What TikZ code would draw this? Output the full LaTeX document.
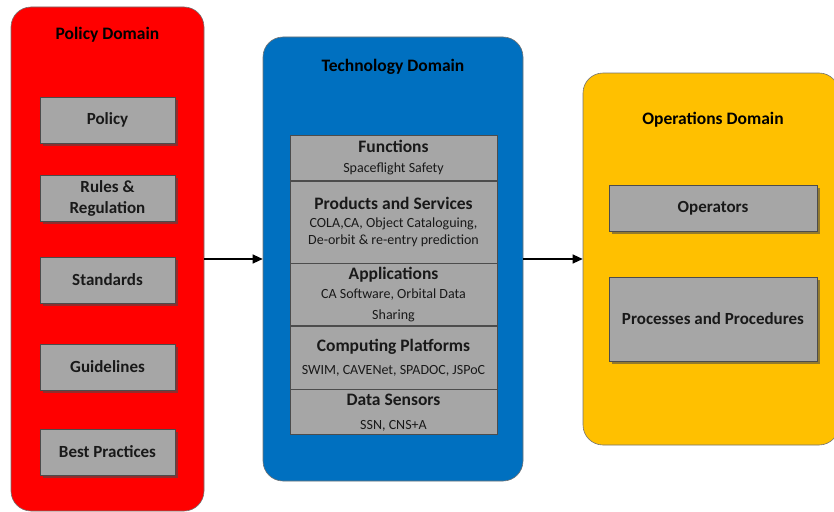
\documentclass[tikz,border=0pt]{standalone}
\usepackage{fontspec}
\setmainfont{Carlito}
\usetikzlibrary{arrows.meta,shadows}
\definecolor{polred}{RGB}{255,0,0}
\definecolor{techblue}{RGB}{0,112,192}
\definecolor{opsyellow}{RGB}{255,192,0}
\definecolor{boxgray}{RGB}{166,166,166}
\tikzset{
  domainbox/.style={draw=black!55, line width=0.6pt, rounded corners=20pt},
  item/.style={draw=black!70, fill=boxgray, line width=0.6pt, text=black!90,
    font=\fontsize{17}{21}\selectfont\bfseries,
    drop shadow={shadow xshift=3pt, shadow yshift=-3pt, opacity=0.6, fill=black!70}},
  layer/.style={draw=black!70, fill=boxgray, line width=0.6pt, text=black!90,
    font=\fontsize{14}{20}\selectfont,
    minimum width=207pt, anchor=north, align=center, inner sep=0pt},
  dtitle/.style={font=\fontsize{17.5}{21}\selectfont\bfseries},
  flow/.style={-{Triangle[length=10pt,width=9pt]}, line width=1.2pt}
}
\newcommand{\layhead}[1]{{\fontsize{17.5}{20}\selectfont\bfseries #1}}
\begin{document}
\begin{tikzpicture}[x=1pt,y=-1pt]
\useasboundingbox (0,0) rectangle (834,511);
\clip (0,0) rectangle (834,511);
% the three domains
\node[domainbox, fill=polred, minimum width=193pt, minimum height=504pt] (policy) at (107.5,259) {};
\node[domainbox, fill=techblue, minimum width=260pt, minimum height=444pt] (tech) at (393,259) {};
\node[domainbox, fill=opsyellow, minimum width=256pt, minimum height=372pt] (ops) at (711,259) {};
\node[dtitle] (poltitle) at (107.5,35) {Policy Domain};
\node[dtitle] (techtitle) at (393,67) {Technology Domain};
\node[dtitle] (opstitle) at (713,120) {Operations Domain};
% policy items
\foreach \y/\name/\txt in {120/pol/Policy, 198/rul/{Rules \&\\Regulation}, 280/std/Standards, 367/gui/Guidelines, 452/bp/Best Practices}
  \node[item, minimum width=135pt, minimum height=46pt, align=center] (\name) at (107.5,\y) {\txt};
% technology stack
\node[layer, minimum height=45pt] (fun) at (393.5,135) {\layhead{Functions}\\[0pt]Spaceflight Safety};
\node[layer, minimum height=82pt] (prod) at (fun.south) {\layhead{Products and Services}\\[-2pt]COLA,CA, Object Cataloguing,\\[-3pt]De-orbit \& re-entry prediction};
\node[layer, minimum height=62pt] (app) at (prod.south) {\layhead{Applications}\\[-1pt]CA Software, Orbital Data\\[1pt]Sharing};
\node[layer, minimum height=63pt] (comp) at (app.south) {\layhead{Computing Platforms}\\[3pt]SWIM, CAVENet, SPADOC, JSPoC};
\node[layer, minimum height=45pt] (sens) at (comp.south) {\layhead{Data Sensors}\\[4pt]SSN, CNS+A};
% operations items
\node[item, minimum width=208pt, minimum height=46pt] (oper) at (713,208) {Operators};
\node[item, minimum width=208pt, minimum height=84pt] (proc) at (713,319) {Processes and Procedures};
% flow between domains
\draw[flow] (policy) -- (tech);
\draw[flow] (tech) -- (ops);
\end{tikzpicture}
\end{document}
